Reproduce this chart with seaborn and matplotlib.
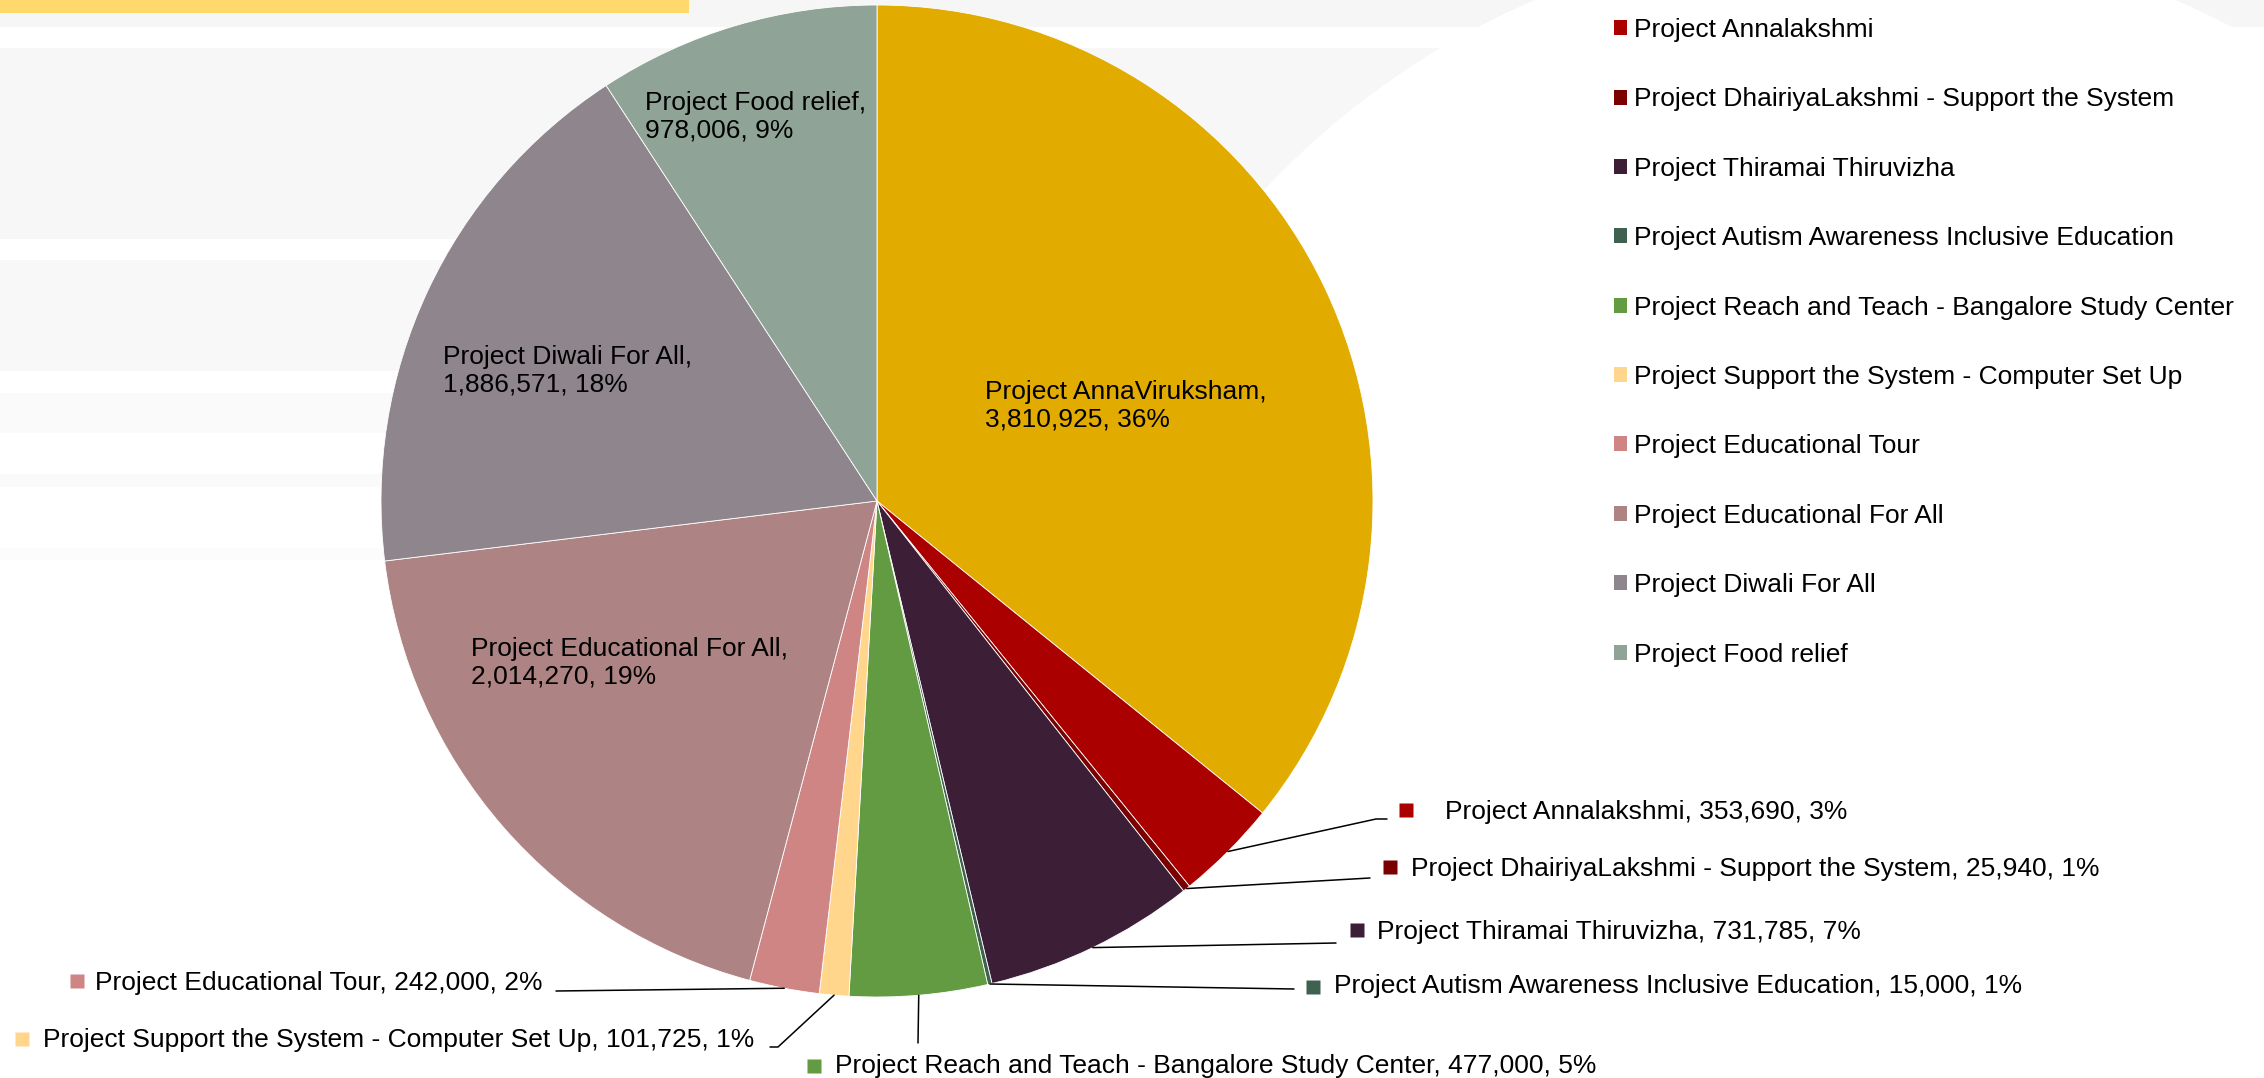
import matplotlib
matplotlib.use("Agg")
import matplotlib.pyplot as plt
from matplotlib.patches import Rectangle, Circle, Patch
import numpy as np
import seaborn as sns

# ── Data ──────────────────────────────────────────────────────────────
projects = [
    "Project AnnaViruksham",
    "Project Annalakshmi",
    "Project DhairiyaLakshmi - Support the System",
    "Project Thiramai Thiruvizha",
    "Project Autism Awareness Inclusive Education",
    "Project Reach and Teach - Bangalore Study Center",
    "Project Support the System - Computer Set Up",
    "Project Educational Tour",
    "Project Educational For All",
    "Project Diwali For All",
    "Project Food relief",
]
amounts = [3810925, 353690, 25940, 731785, 15000, 477000,
           101725, 242000, 2014270, 1886571, 978006]
pct_labels = [36, 3, 1, 7, 1, 5, 1, 2, 19, 18, 9]
colors = ["#E1AB00", "#AA0000", "#7B0000", "#3C1F36", "#3F6150", "#629B41",
          "#FFD68C", "#D08585", "#AE8383", "#8F858C", "#8FA397"]
legend_names = projects[1:]
legend_colors = colors[1:]

# ── Layout (pixel coordinates, y down) ────────────────────────────────
W, H = 2264, 1078
CX, CY, R = 877, 501, 496
FS = 19

inside_pos = {0: (985, 406), 10: (645, 117), 9: (443, 371), 8: (471, 663)}
# index -> (leader points after the wedge edge, marker xy, text xy)
outside_pos = {
    1: ([(1376, 819), (1387, 819)], (1406, 810), (1445, 812)),
    2: ([(1370, 878)], (1390, 867), (1411, 869)),
    3: ([(1336, 943)], (1357, 930), (1377, 932)),
    4: ([(1294, 989)], (1313, 987), (1334, 986)),
    5: ([(918, 1043)], (814, 1066), (835, 1066)),
    6: ([(778, 1047), (770, 1047)], (22, 1039), (43, 1040)),
    7: ([(556, 991)], (77, 981), (95, 983)),
}

stripes = [(0, 27, "#F6F6F6"), (48, 239, "#F7F7F7"), (260, 371, "#F8F8F8"),
           (393, 433, "#FAFAFA"), (474, 487, "#FAFAFA"), (548, 560, "#FCFCFC")]

sns.set_theme(style="white")
plt.rcParams["font.family"] = ["Liberation Sans", "DejaVu Sans"]

fig = plt.figure(figsize=(W / 100, H / 100), dpi=100, facecolor="white")
ax = fig.add_axes([0, 0, 1, 1])

# slide background
for y0, y1, c in stripes:
    ax.add_patch(Rectangle((0, y0), W, y1 - y0, facecolor=c, edgecolor="none", zorder=0))
ax.add_patch(Circle((1855, 744), 810, facecolor="white", edgecolor="none", zorder=0.5))
ax.add_patch(Rectangle((0, 0), 689, 13, facecolor="#FFD96B", edgecolor="none", zorder=0.6))

wedges, _ = ax.pie(
    amounts, colors=colors, startangle=-90, counterclock=True,
    center=(CX, CY), radius=R, frame=True,
    wedgeprops=dict(linewidth=0.6, edgecolor="white", zorder=2),
)

for i, (x, y) in inside_pos.items():
    ax.text(x, y, f"{projects[i]},\n{amounts[i]:,}, {pct_labels[i]}%",
            ha="left", va="center", fontsize=FS, color="black", zorder=5)

for i, (pts, (mx, my), (tx, ty)) in outside_pos.items():
    w = wedges[i]
    theta = np.deg2rad((w.theta1 + w.theta2) / 2)
    ex, ey = CX + R * np.cos(theta), CY + R * np.sin(theta)
    xs = [ex] + [p[0] for p in pts]
    ys = [ey] + [p[1] for p in pts]
    ax.plot(xs, ys, color="black", lw=1.1, zorder=4)
    ax.plot(mx, my, marker="s", ms=9.5, color=colors[i], mec="none", zorder=5)
    ax.text(tx, ty, f"{projects[i]}, {amounts[i]:,}, {pct_labels[i]}%",
            ha="left", va="center", fontsize=FS, color="black", zorder=5)

handles = [Patch(facecolor=c, edgecolor="none") for c in legend_colors]
ax.legend(handles, legend_names, loc="upper left",
          bbox_to_anchor=(1614 / W, 1 - 18 / H), bbox_transform=fig.transFigure,
          frameon=False, fontsize=FS, labelcolor="black",
          handlelength=0.5, handleheight=0.5,
          handletextpad=0.25, labelspacing=1.72, borderpad=0, borderaxespad=0)

ax.set_xlim(0, W)
ax.set_ylim(H, 0)
ax.set_aspect("auto")
ax.axis("off")

fig.savefig("out.png", dpi=100, facecolor="white")
